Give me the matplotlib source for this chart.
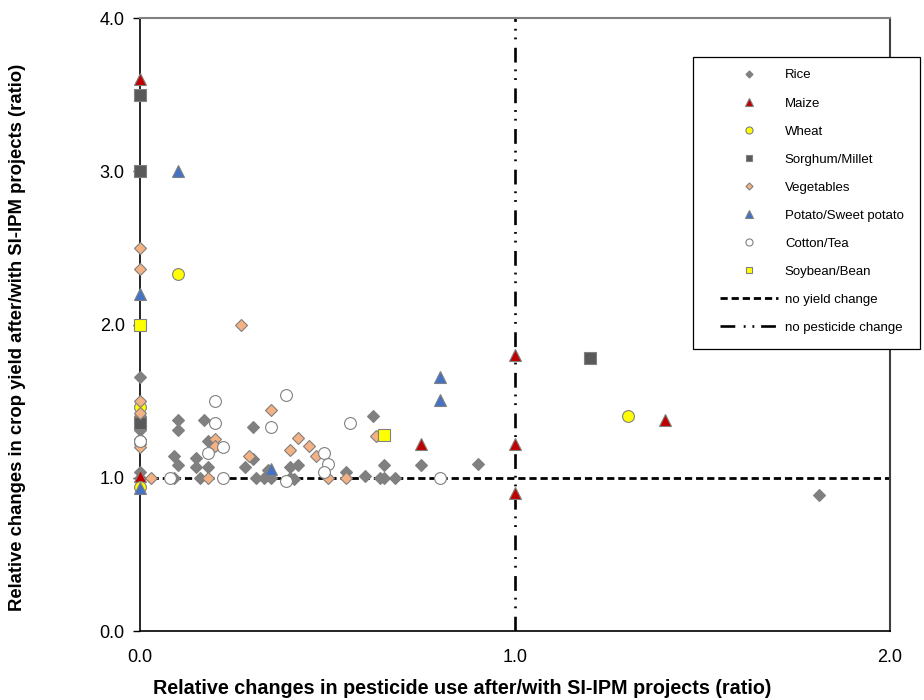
import matplotlib
matplotlib.use("Agg")
import matplotlib.pyplot as plt
from matplotlib.patches import Rectangle
from matplotlib import font_manager

plt.rcParams['font.family'] = ['Liberation Sans', 'DejaVu Sans']

# Data: pesticide ratio (x) vs yield ratio (y)
rice_x = [0, 0, 0, 0, 0, 0, 0, 0, 0.10, 0.10, 0.17, 0.18, 0.09, 0.10, 0.15, 0.15, 0.18, 0.16, 0.09,
          0.30, 0.28, 0.30, 0.31, 0.33, 0.34, 0.35, 0.40, 0.42, 0.40, 0.41,
          0.62, 0.55, 0.60, 0.64, 0.65, 0.65, 0.68, 0.75, 0.90, 1.81]
rice_y = [1.66, 1.40, 1.36, 1.31, 1.25, 1.22, 1.04, 1.00, 1.38, 1.31, 1.38, 1.24, 1.14, 1.08, 1.13, 1.07, 1.07, 1.00, 1.00,
          1.33, 1.07, 1.12, 1.00, 1.00, 1.05, 1.00, 1.07, 1.08, 1.00, 0.99,
          1.40, 1.04, 1.01, 1.00, 1.00, 1.08, 1.00, 1.08, 1.09, 0.89]

maize_x = [0, 0, 0.75, 1.0, 1.0, 1.0, 1.40]
maize_y = [3.60, 1.01, 1.22, 1.80, 1.22, 0.90, 1.38]

wheat_x = [0, 0, 0.10, 1.30]
wheat_y = [1.46, 0.94, 2.33, 1.40]

sorghum_x = [0, 0, 0, 1.20]
sorghum_y = [3.50, 3.00, 1.36, 1.78]

veg_x = [0, 0, 0, 0, 0, 0.03, 0.18, 0.20, 0.20, 0.27, 0.29, 0.35, 0.40, 0.42, 0.45, 0.47, 0.50, 0.55, 0.63]
veg_y = [2.50, 2.36, 1.50, 1.42, 1.20, 1.00, 1.00, 1.25, 1.21, 2.00, 1.14, 1.44, 1.18, 1.26, 1.21, 1.14, 1.00, 1.00, 1.27]

potato_x = [0, 0, 0.10, 0.35, 0.80, 0.80]
potato_y = [2.20, 0.93, 3.00, 1.06, 1.66, 1.51]

cotton_x = [0, 0.08, 0.20, 0.20, 0.22, 0.18, 0.22, 0.35, 0.39, 0.39, 0.49, 0.50, 0.49, 0.56, 0.80]
cotton_y = [1.24, 1.00, 1.50, 1.36, 1.20, 1.16, 1.00, 1.33, 1.54, 0.98, 1.16, 1.09, 1.04, 1.36, 1.00]

soy_x = [0, 0.65]
soy_y = [2.00, 1.28]

edge = '#808080'

# narrow font for the x title if it is installed
names = {f.name for f in font_manager.fontManager.ttflist}
narrow = 'Liberation Sans Narrow' in names
print("narrow font:", narrow)

fig = plt.figure(figsize=(9.24, 7.0), dpi=100)
ax = fig.add_axes([140 / 924, 1 - 631 / 700, 750 / 924, 613 / 700])

# reference lines
ax.plot([0, 2], [1, 1], color='black', lw=2, linestyle=(0, (2.6, 1.4)),
        label='no yield change', zorder=2)
ax.plot([1, 1], [0, 4], color='black', lw=1.9, linestyle=(0, (5.6, 3.2, 0.7, 2.6, 0.7, 2.6)),
        label='no pesticide change', zorder=2)

# crop series (name, x, y, marker, size, face colour)
series = [
    ('Rice', rice_x, rice_y, 'D', 6, '#808080'),
    ('Maize', maize_x, maize_y, '^', 9, '#C00000'),
    ('Wheat', wheat_x, wheat_y, 'o', 8.5, '#FFFF00'),
    ('Sorghum/Millet', sorghum_x, sorghum_y, 's', 8, '#595959'),
    ('Vegetables', veg_x, veg_y, 'D', 6, '#F4B183'),
    ('Potato/Sweet potato', potato_x, potato_y, '^', 9, '#4472C4'),
    ('Cotton/Tea', cotton_x, cotton_y, 'o', 8.5, 'white'),
    ('Soybean/Bean', soy_x, soy_y, 's', 8, '#FFFF00'),
]
handles = []
for name, xs, ys, mk, ms, fc in series:
    h, = ax.plot(xs, ys, linestyle='none', marker=mk, markersize=ms, markerfacecolor=fc,
                 markeredgecolor=edge, markeredgewidth=0.8, label=name, clip_on=False, zorder=3)
    handles.append(h)

ref_handles = ax.get_lines()[:2]

ax.set_xlim(0, 2)
ax.set_ylim(0, 4)
ax.set_xticks([0, 1, 2])
ax.set_xticklabels(['0.0', '1.0', '2.0'])
ax.set_yticks([0, 1, 2, 3, 4])
ax.set_yticklabels(['0.0', '1.0', '2.0', '3.0', '4.0'])
ax.tick_params(axis='x', length=0, pad=13, labelsize=13)
ax.tick_params(axis='y', length=5, width=1, pad=6, labelsize=13)

ax.spines['left'].set_color('black')
ax.spines['bottom'].set_color('black')
ax.spines['left'].set_linewidth(1.2)
ax.spines['bottom'].set_linewidth(1.2)
ax.spines['top'].set_color('#808080')
ax.spines['right'].set_color('#404040')
ax.spines['top'].set_linewidth(1.5)
ax.spines['right'].set_linewidth(1.5)

# axis titles
if narrow:
    fig.text(462 / 924, 1 - 688 / 700, 'Relative changes in pesticide use after/with SI-IPM projects (ratio)',
             ha='center', va='center', fontsize=17, fontweight='bold', family='Liberation Sans Narrow')
else:
    fig.text(462 / 924, 1 - 688 / 700, 'Relative changes in pesticide use after/with SI-IPM projects (ratio)',
             ha='center', va='center', fontsize=14.2, fontweight='bold')
fig.text(18 / 924, 1 - 337 / 700, 'Relative changes in crop yield after/with SI-IPM projects (ratio)',
         ha='center', va='center', rotation=90, fontsize=13.3, fontweight='bold')

# legend box drawn on the figure, sticks out past the right axis
box = Rectangle((693 / 924, 1 - 349 / 700), 227 / 924, 292 / 700, transform=fig.transFigure,
                facecolor='white', edgecolor='black', lw=0.9, zorder=4)
fig.patches.append(box)

leg = fig.legend(handles + list(ref_handles),
                 [s[0] for s in series] + ['no yield change', 'no pesticide change'],
                 loc='upper left', bbox_to_anchor=(711 / 924, 1 - 60 / 700),
                 frameon=False, fontsize=9.5, markerscale=0.6, handlelength=4.4,
                 handletextpad=0.5, labelspacing=1.2, borderpad=0.2)
leg.set_zorder(5)

plt.savefig('out.png', dpi=100)
